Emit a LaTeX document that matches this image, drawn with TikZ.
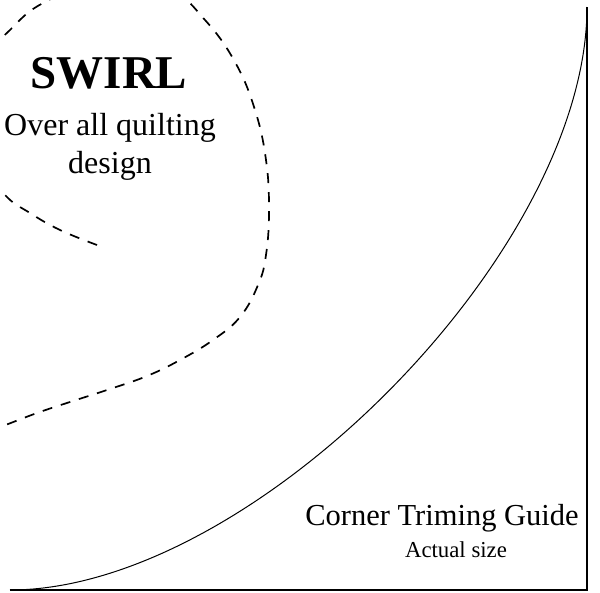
\documentclass[tikz,border=0pt]{standalone}
\usepackage{fontspec}
\setmainfont{Liberation Serif}
\tikzset{swirl line/.style={line width=1.7pt, dash pattern=on 10pt off 9pt},
  guide line/.style={line width=1.2pt},
  guide curve/.style={line width=1pt}}
\newcommand{\bigtitle}{\fontsize{47}{56}\selectfont\bfseries}
\newcommand{\subtitle}{\fontsize{32}{38}\selectfont}
\begin{document}
\begin{tikzpicture}[x=1pt,y=-1pt]
  \useasboundingbox (0,0) rectangle (600,592);

  % swirl, clipped at the page edge
  \begin{scope}
    \clip (0,0) rectangle (600,592);
    \draw[swirl line] plot[smooth, tension=0.7] coordinates {
      (97,245) (60,230) (30,213) (5,195) (-20,160) (-30,110) (-15,60)
      (10,30) (45,2) (110,-22) (170,-10) (205,20) (235,62) (255,110)
      (266,160) (269,210) (266,255) (258,285) (240,317) (213,340)
      (180,360) (147,376) (110,389) (73,401) (37,413) (0,427) (-30,437)};
  \end{scope}

  \node[anchor=base] (swirl) at (109,88) {\bigtitle SWIRL};
  \node[anchor=base] (over) at (110,135) {\subtitle Over all quilting};
  \node[anchor=base] (design) at (110,173) {\subtitle design};

  % corner guide
  \coordinate (bl) at (10,590);
  \coordinate (br) at (587,590);
  \coordinate (tr) at (587,7);
  \draw[guide line] (bl) -- (br) -- (tr);
  \draw[guide curve] (bl) .. controls (252,590) and (587,252) .. (tr);

  \node[anchor=base] (guide) at (442,525) {\fontsize{30.5}{36}\selectfont Corner Triming Guide};
  \node[anchor=base] (size) at (456,557) {\fontsize{22.8}{27}\selectfont Actual size};
\end{tikzpicture}
\end{document}
